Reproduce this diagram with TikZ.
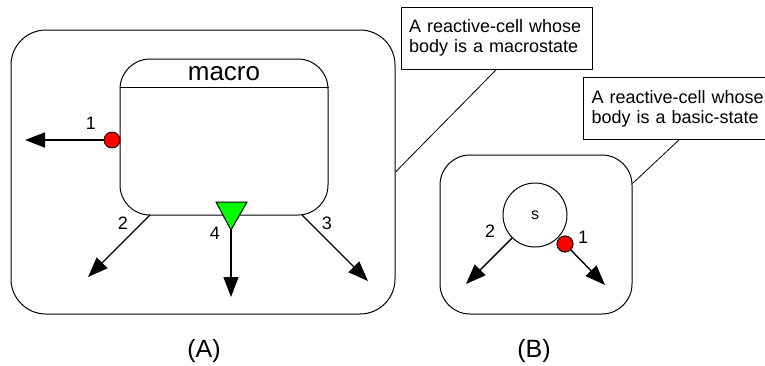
\documentclass[tikz,border=0pt]{standalone}
\usepackage{fontspec}
\setmainfont{Liberation Sans}
\usetikzlibrary{arrows.meta}
\definecolor{portred}{RGB}{255,0,0}
\definecolor{portgreen}{RGB}{0,255,0}
\tikzset{
  cellbox/.style={draw, line width=1pt, rounded corners=#1, inner sep=0pt},
  port/.style={circle, draw, line width=0.8pt, fill=portred, minimum size=16pt, inner sep=0pt},
  outarrow/.style={line width=1.4pt, -{Triangle[length=20pt,width=15pt]}},
  num/.style={font=\fontsize{18}{18}\selectfont, inner sep=0pt},
  note/.style={draw, line width=0.8pt, minimum height=62pt, text width=175pt, inner sep=8pt, align=left, font=\fontsize{18}{20}\selectfont},
  callout/.style={line width=0.8pt},
  caption/.style={font=\fontsize{25}{25}\selectfont, inner sep=0pt}
}
\begin{document}
\begin{tikzpicture}[x=1pt,y=-1pt]
\useasboundingbox (0,0) rectangle (765,365);
\clip (0,0) rectangle (765,365);
\fill[white] (0,0) rectangle (765,365);
% (A)
\node[cellbox=35pt, minimum width=384pt, minimum height=284pt] (outerA) at (203,172) {};
\node[cellbox=30pt, minimum width=208pt, minimum height=156pt] (macro) at (224,137) {};
\draw[line width=1pt] ([yshift=-29pt]macro.north west) -- ([yshift=-29pt]macro.north east);
\node[font=\fontsize{26}{26}\selectfont, inner sep=0pt] (macrolbl) at (224,74) {macro};
\node[port] (r1) at (112,140) {};
\coordinate (t1) at (25,140);
\draw[outarrow] (r1.west) -- (t1);
\node[num] (n1) at (91,123) {1};
\coordinate (s2) at (150,215);
\coordinate (t2) at (88,277);
\draw[outarrow] (s2) -- (t2);
\node[num] (n2) at (123,223) {2};
\coordinate (s3) at (302,215);
\coordinate (t3) at (368,281);
\draw[outarrow] (s3) -- (t3);
\node[num] (n3) at (327,223) {3};
\coordinate (g4) at (231,230);
\coordinate (t4) at (231,297);
\draw[outarrow] (g4) -- (t4);
\draw[line width=1pt, fill=portgreen] (216,202) -- (247,202) -- (g4) -- cycle;
\node[num] (n4) at (215,233) {4};
% (B)
\node[cellbox=30pt, minimum width=192pt, minimum height=159pt] (outerB) at (536,234.5) {};
\node[circle, draw, line width=1pt, minimum size=64pt, inner sep=0pt, font=\fontsize{16}{16}\selectfont] (s) at (535,215) {s};
\node[port] (r1b) at (565,244) {};
\coordinate (t1b) at (605,285);
\draw[outarrow] (r1b) -- (t1b);
\node[port] at (565,244) {};
\node[num] (n1b) at (583,237) {1};
\coordinate (t2b) at (466,284);
\draw[outarrow] (s.225) -- (t2b);
\node[num] (n2b) at (490,231) {2};
% notes
\node[note] (note1) at (496.5,38) {A reactive-cell whose\\body is a macrostate};
\node[note] (note2) at (679,108.5) {A reactive-cell whose\\body is a basic-state};
\draw[callout] (note1.south) -- (outerA.east);
\draw[callout] (note2.south) -- ([yshift=-29pt]outerB.north east);
% captions
\node[caption] (capA) at (204,351) {(A)};
\node[caption] (capB) at (534,351) {(B)};
\end{tikzpicture}
\end{document}
